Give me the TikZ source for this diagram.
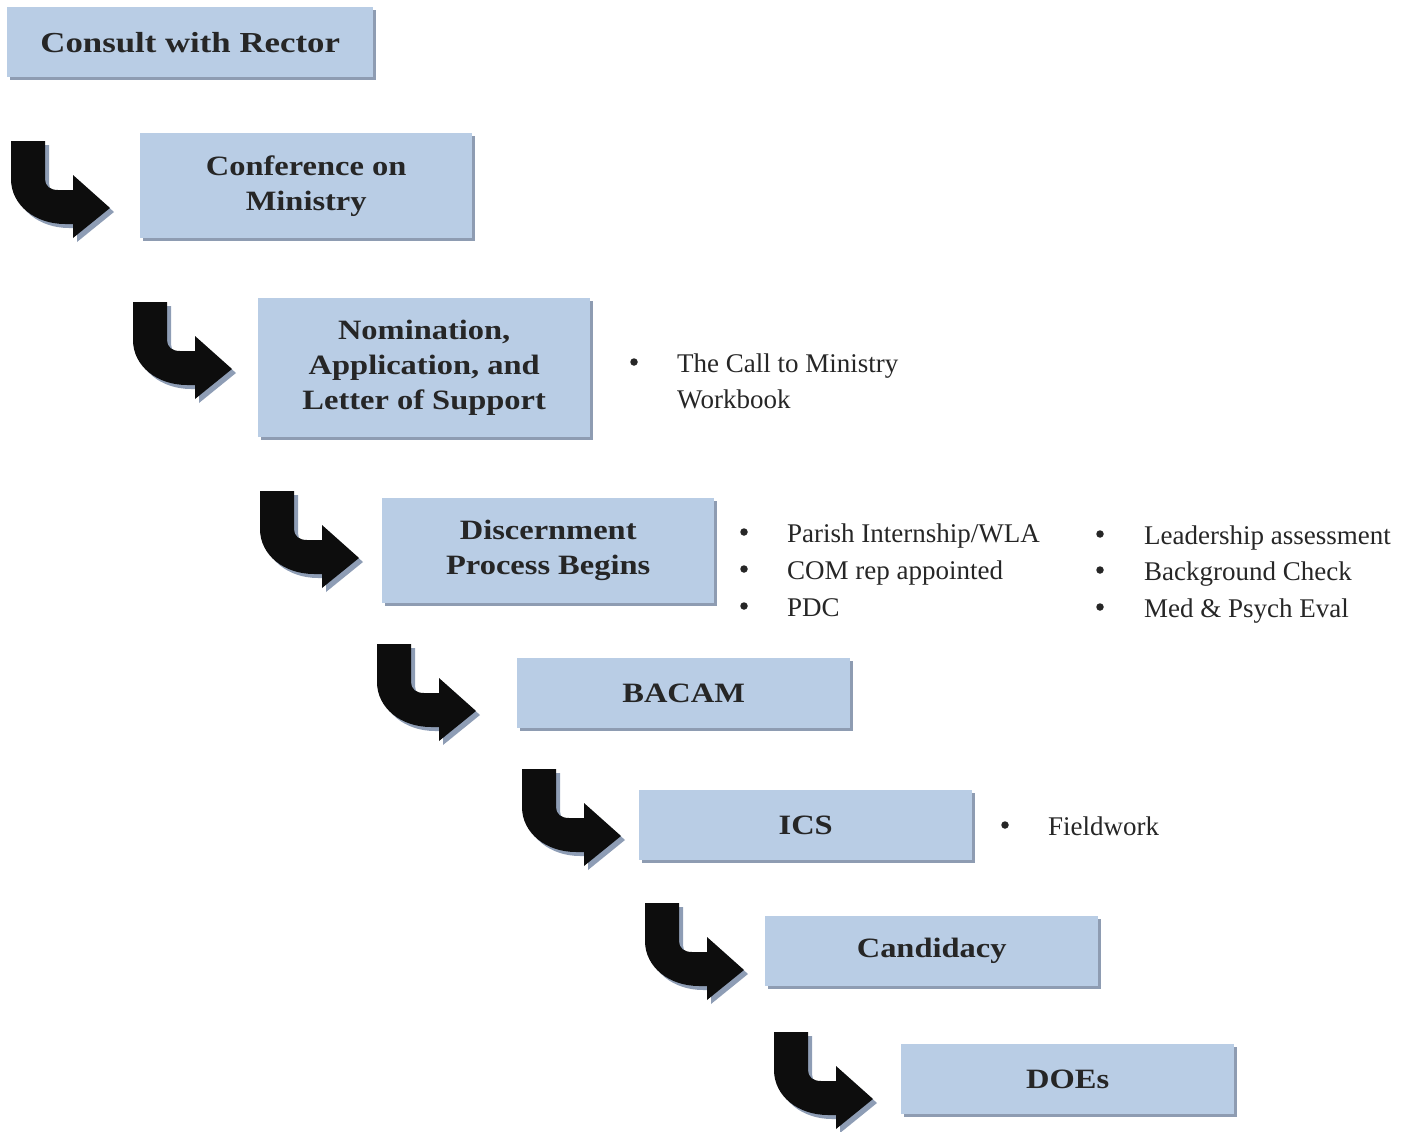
\documentclass[tikz,border=0pt]{standalone}
\usepackage{fontspec}
\setmainfont{Liberation Serif}
\newfontfamily\titlefont[FakeStretch=1.16]{Liberation Serif}
\newfontfamily\widetitlefont[FakeStretch=1.2]{Liberation Serif}
\usetikzlibrary{shadows}
\definecolor{boxfill}{HTML}{B9CDE5}
\definecolor{boxshade}{HTML}{8E9CB2}
\definecolor{arrowfill}{HTML}{0D0D0D}
\definecolor{arrowshade}{HTML}{8E9DB5}
\definecolor{textc}{HTML}{262626}
\tikzset{
  stagebox/.style={fill=boxfill, general shadow={fill=boxshade, shadow xshift=3pt, shadow yshift=-3pt},
    anchor=north west, inner sep=0pt, align=center, text=textc,
    font=\titlefont\bfseries\fontsize{28}{35}\selectfont},
  itemtext/.style={anchor=base west, inner sep=0pt, text=textc, font=\fontsize{27}{36}\selectfont},
  itembullet/.style={circle, fill=textc, inner sep=0pt, minimum size=7.5pt},
  bentarrow/.pic={
    \begin{scope}[shift={(4,4)}]
      \fill[arrowshade] (0,0) -- (34,0) -- (34,38) .. controls (34,45) and (39,49) .. (47,49) -- (62,49) -- (62,34) -- (99,67) -- (62,97) -- (62,83) -- (54,83) .. controls (24,83) and (0,64) .. (0,38) -- cycle;
    \end{scope}
    \fill[arrowfill] (0,0) -- (34,0) -- (34,38) .. controls (34,45) and (39,49) .. (47,49) -- (62,49) -- (62,34) -- (99,67) -- (62,97) -- (62,83) -- (54,83) .. controls (24,83) and (0,64) .. (0,38) -- cycle;
  }
}
\begin{document}
\begin{tikzpicture}[x=1pt,y=-1pt]
\useasboundingbox (0,0) rectangle (1406,1132);
% boxes
\node[stagebox, minimum width=366pt, minimum height=70pt, font=\widetitlefont\bfseries\fontsize{29}{35}\selectfont] (b1) at (7,7) {Consult with Rector};
\node[stagebox, minimum width=332pt, minimum height=105pt] (b2) at (140,133) {Conference on\\Ministry};
\node[stagebox, minimum width=332pt, minimum height=139pt] (b3) at (258,298) {Nomination,\\Application, and\\Letter of Support};
\node[stagebox, minimum width=332pt, minimum height=105pt] (b4) at (382,498) {Discernment\\Process Begins};
\node[stagebox, minimum width=333pt, minimum height=70pt] (b5) at (517,658) {BACAM};
\node[stagebox, minimum width=333pt, minimum height=70pt] (b6) at (639,790) {ICS};
\node[stagebox, minimum width=333pt, minimum height=70pt] (b7) at (765,916) {Candidacy};
\node[stagebox, minimum width=333pt, minimum height=70pt] (b8) at (901,1044) {DOEs};
% bent arrows
\pic (a2) at (11,141) {bentarrow};
\pic (a3) at (133,302) {bentarrow};
\pic (a4) at (260,491) {bentarrow};
\pic (a5) at (377,644) {bentarrow};
\pic (a6) at (522,769) {bentarrow};
\pic (a7) at (645,903) {bentarrow};
\pic (a8) at (774,1032) {bentarrow};
% lists
\node[itembullet] (p1) at (634,362) {};
\node[itemtext] (t1) at (677,372) {The Call to Ministry};
\node[itemtext] (t1b) at (677,408) {Workbook};
\node[itembullet] (p2) at (744,532) {};
\node[itemtext] (t2) at (787,542) {Parish Internship/WLA};
\node[itembullet] (p3) at (744,569) {};
\node[itemtext] (t3) at (787,579) {COM rep appointed};
\node[itembullet] (p4) at (744,606) {};
\node[itemtext] (t4) at (787,616) {PDC};
\node[itembullet] (p5) at (1100,534) {};
\node[itemtext] (t5) at (1144,544) {Leadership assessment};
\node[itembullet] (p6) at (1100,570) {};
\node[itemtext] (t6) at (1144,580) {Background Check};
\node[itembullet] (p7) at (1100,607) {};
\node[itemtext] (t7) at (1144,617) {Med \& Psych Eval};
\node[itembullet] (p8) at (1005,825) {};
\node[itemtext] (t8) at (1048,835) {Fieldwork};
\end{tikzpicture}
\end{document}
